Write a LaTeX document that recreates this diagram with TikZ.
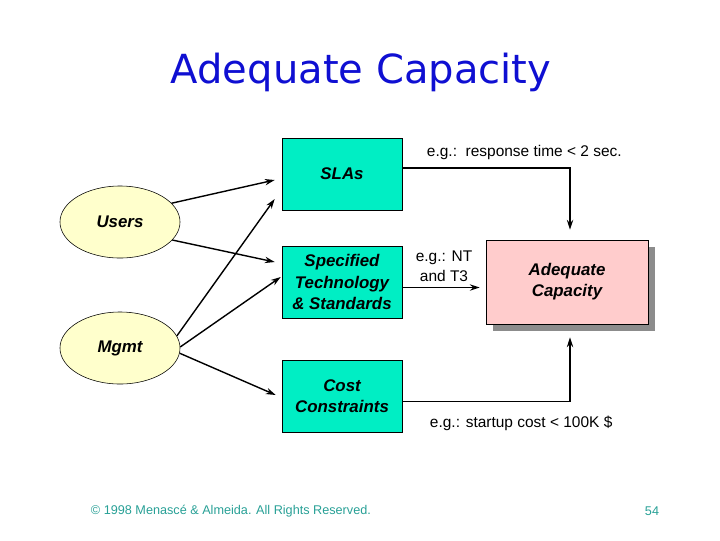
\documentclass[tikz,border=0pt]{standalone}
\usepackage{fontspec}
\setmainfont{Liberation Sans}
\newfontfamily\titlefont{DejaVu Sans}
\usetikzlibrary{arrows.meta,shapes.geometric,shadows,calc}
\definecolor{boxcyan}{RGB}{0,238,196}
\definecolor{boxpink}{RGB}{255,204,204}
\definecolor{ovalyellow}{RGB}{255,255,204}
\definecolor{titleblue}{RGB}{15,15,210}
\definecolor{footteal}{RGB}{40,160,150}

\begin{document}
\begin{tikzpicture}[x=0.025cm,y=-0.025cm,
    factor/.style={draw,fill=boxcyan,minimum width=3cm,minimum height=1.8cm,align=center,
      font=\fontsize{12}{15}\selectfont\bfseries\itshape},
    who/.style={draw,ellipse,fill=ovalyellow,minimum width=3cm,minimum height=1.8cm,
      font=\fontsize{12}{15}\selectfont\bfseries\itshape},
    goal/.style={draw,fill=boxpink,minimum width=4.05cm,minimum height=2.1cm,align=center,
      font=\fontsize{12}{15}\selectfont\bfseries\itshape,
      drop shadow={shadow xshift=5pt,shadow yshift=-5pt,fill=black!45,opacity=1}},
    link/.style={-{Stealth[length=7pt,width=4.5pt]},line width=1pt},
    note/.style={font=\fontsize{11}{14}\selectfont}]
  \useasboundingbox (0,0) rectangle (720,540);
  \node[titleblue] (title) at (361,72) {\titlefont\fontsize{28.5}{32}\selectfont Adequate Capacity};

  \node[who] (users) at (120,222) {Users};
  \node[who] (mgmt) at (120,348) {Mgmt};
  \node[factor] (slas) at (342,174) {SLAs};
  \node[factor] (spec) at (342,282) {Specified\\Technology\\\& Standards};
  \node[factor] (cost) at (342,396) {Cost\\Constraints};
  \node[goal] (adeq) at (567,282) {Adequate\\Capacity};

  % left side
  \draw[link] (users.20) -- ($(slas.west)+(-7,6)$);
  \draw[link] (users.-19) -- ($(spec.west)+(-7,-20)$);
  \draw[link] (mgmt.12) -- ($(slas.west)+(-7,25)$);
  \draw[link] (mgmt.1) -- ($(spec.west)+(-1,-5)$);
  \draw[link] (mgmt.-5) -- ($(cost.west)+(-6,-1)$);

  % right side
  \draw[link] ($(slas.east)+(0,-6)$) -| ($(adeq.north)+(3,-10)$);
  \draw[link] ($(spec.east)+(0,5.5)$) -- ($(adeq.west)+(-6,5.5)$);
  \draw[link] ($(cost.east)+(0,5.5)$) -| ($(adeq.south)+(3,13)$);

  \node[note,anchor=west] (ex1) at (422,152) {e.g.:\ \ response time < 2 sec.};
  \node[note,align=center] (ex2) at (444,266) {e.g.: NT\\and T3};
  \node[note,anchor=west] (ex3) at (425,423) {e.g.: startup cost < 100K \$};

  \node[footteal,anchor=west,font=\fontsize{9}{12}\selectfont] (copy) at (86,511)
    {\textcopyright{} 1998 Menascé \& Almeida. All Rights Reserved.};
  \node[footteal,font=\fontsize{9}{12}\selectfont] (page) at (652,511) {54};
\end{tikzpicture}
\end{document}
